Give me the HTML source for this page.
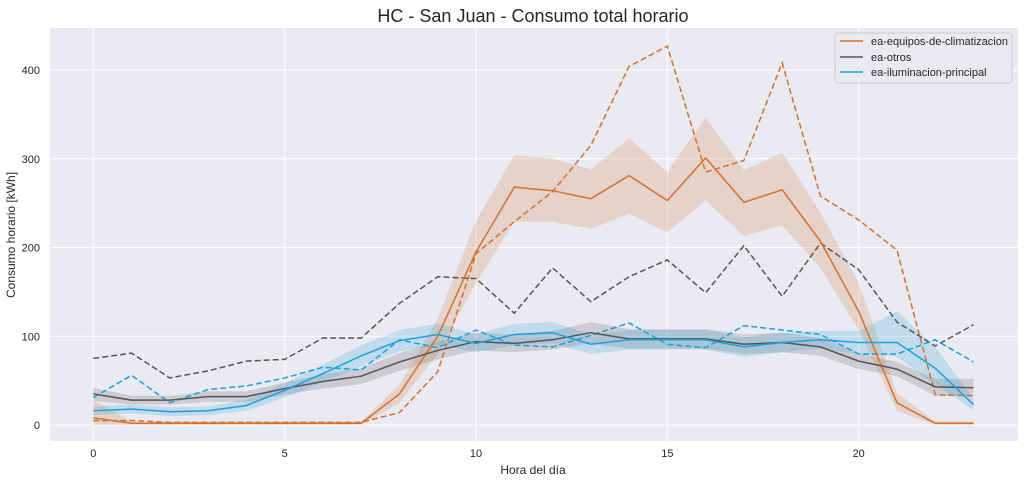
<!DOCTYPE html>
<html><head><meta charset="utf-8"><style>
body{margin:0;background:#fff;}
svg text{font-family:"Liberation Sans",Arial,sans-serif;}
</style></head><body>
<svg id="chart" width="1025" height="483" xmlns="http://www.w3.org/2000/svg">
<text x="533" y="22" font-size="18" text-anchor="middle" fill="#262626">HC - San Juan - Consumo total horario</text>
<rect x="50" y="28" width="968" height="413" fill="#eaeaf2"/>
<g id="grid"></g>
<g id="marks"></g>
<text x="533" y="474" font-size="12" text-anchor="middle" fill="#262626">Hora del día</text>
<text transform="translate(15,235) rotate(-90)" font-size="12" text-anchor="middle" fill="#262626">Consumo horario [kWh]</text>
<g>
<rect x="835" y="33" width="177" height="50" rx="3" fill="#eaeaf2" stroke="#cccccc"/>
<line x1="840" y1="41" x2="863" y2="41" stroke="#d4712d" stroke-width="1.5"/>
<text x="871" y="45" font-size="11" fill="#262626">ea-equipos-de-climatizacion</text>
<line x1="840" y1="57" x2="863" y2="57" stroke="#555555" stroke-width="1.5"/>
<text x="871" y="61" font-size="11" fill="#262626">ea-otros</text>
<line x1="840" y1="72" x2="863" y2="72" stroke="#1ea0dc" stroke-width="1.5"/>
<text x="871" y="76" font-size="11" fill="#262626">ea-iluminacion-principal</text>
</g>
</svg>
<script>
const hours=[0,1,2,3,4,5,6,7,8,9,10,11,12,13,14,15,16,17,18,19,20,21,22,23];
const xTicks=[0,5,10,15,20];
const yTicks=[0,100,200,300,400];
const climaMean=[8,2,2,2,2,2,2,2,35,100,195,268,264,255,281,253,301,251,265,207,128,25,2,2];
const climaLow=[0,0,0,0,0,0,0,0,25,80,160,229,229,221,238,217,253,213,225,177,107,16,0,0];
const climaHigh=[28,4,4,4,4,4,4,4,45,120,230,304,300,288,323,285,347,287,307,239,160,36,4,4];
const climaDash=[5,5,3,3,3,3,3,3,14,60,193,229,263,315,404,427,285,298,408,258,231,197,34,33];
const otrosMean=[35,28,28,32,32,41,49,55,71,84,94,92,96,104,97,97,97,91,93,88,72,63,43,42];
const otrosLow=[27,23,23,26,26,34,41,46,61,74,84,82,85,92,86,86,86,80,82,78,63,55,33,33];
const otrosHigh=[42,33,33,38,38,48,57,64,81,94,104,102,106,116,108,108,108,102,104,98,81,71,52,52];
const otrosDash=[75,81,53,61,72,74,98,98,137,167,165,126,177,139,167,186,149,202,145,205,175,116,89,113];
const ilumMean=[16,18,15,16,22,39,58,78,95,102,92,102,104,91,96,96,96,88,93,96,93,93,64,23];
const ilumLow=[11,13,10,11,16,31,48,66,83,90,82,90,92,80,85,85,85,77,82,86,80,77,45,17];
const ilumHigh=[21,23,20,21,28,47,68,90,107,114,102,114,116,102,107,107,107,99,104,106,106,128,88,30];
const ilumDash=[31,56,25,40,44,53,65,62,96,87,107,90,88,101,115,91,87,112,107,102,80,80,96,71];

const X=h=>93.3+h*38.27;
const Y=v=>425-v*0.8875;
const NS='http://www.w3.org/2000/svg';
const grid=document.getElementById('grid'), marks=document.getElementById('marks'), svg=document.getElementById('chart');
function mk(tag,attrs,parent){const e=document.createElementNS(NS,tag);for(const k in attrs)e.setAttribute(k,attrs[k]);parent.appendChild(e);return e;}
xTicks.forEach(t=>{
  const l=mk('line',{x1:X(t),x2:X(t),y1:28,y2:441,stroke:'#fff','stroke-width':1},grid);
  
  
  const tx=mk('text',{x:X(t),y:457,'font-size':11,'text-anchor':'middle',fill:'#262626'},svg);
  tx.textContent=t;
  
  
});
yTicks.forEach(t=>{
  const l=mk('line',{x1:50,x2:1018,y1:Y(t),y2:Y(t),stroke:'#fff','stroke-width':1},grid);
  
  
  const tx=mk('text',{x:40,y:Y(t)+4,'font-size':11,'text-anchor':'end',fill:'#262626'},svg);
  tx.textContent=t;
  
  
});
function band(lo,hi,color,name){
  let d='M'+hours.map((h,i)=>X(h)+','+Y(hi[i])).join('L');
  d+='L'+hours.slice().reverse().map(h=>X(h)+','+Y(lo[h])).join('L')+'Z';
  const p=mk('path',{d:d,fill:color,'fill-opacity':0.2,stroke:'none'},marks);
  
  
}
function line(vals,color,dash,name){
  const p=mk('polyline',{points:hours.map((h,i)=>X(h)+','+Y(vals[i])).join(' '),fill:'none',stroke:color,'stroke-width':1.5},marks);
  if(dash)p.setAttribute('stroke-dasharray','6,3');
  
  
}
band(climaLow,climaHigh,'#d4712d','climatizacion-ci-band');
band(otrosLow,otrosHigh,'#555555','otros-ci-band');
band(ilumLow,ilumHigh,'#1ea0dc','iluminacion-ci-band');
line(climaDash,'#d4712d',true,'climatizacion-dashed-line');
line(otrosDash,'#555555',true,'otros-dashed-line');
line(ilumDash,'#1ea0dc',true,'iluminacion-dashed-line');
line(climaMean,'#d4712d',false,'climatizacion-mean-line');
line(otrosMean,'#555555',false,'otros-mean-line');
line(ilumMean,'#1ea0dc',false,'iluminacion-mean-line');
</script>
</body></html>
